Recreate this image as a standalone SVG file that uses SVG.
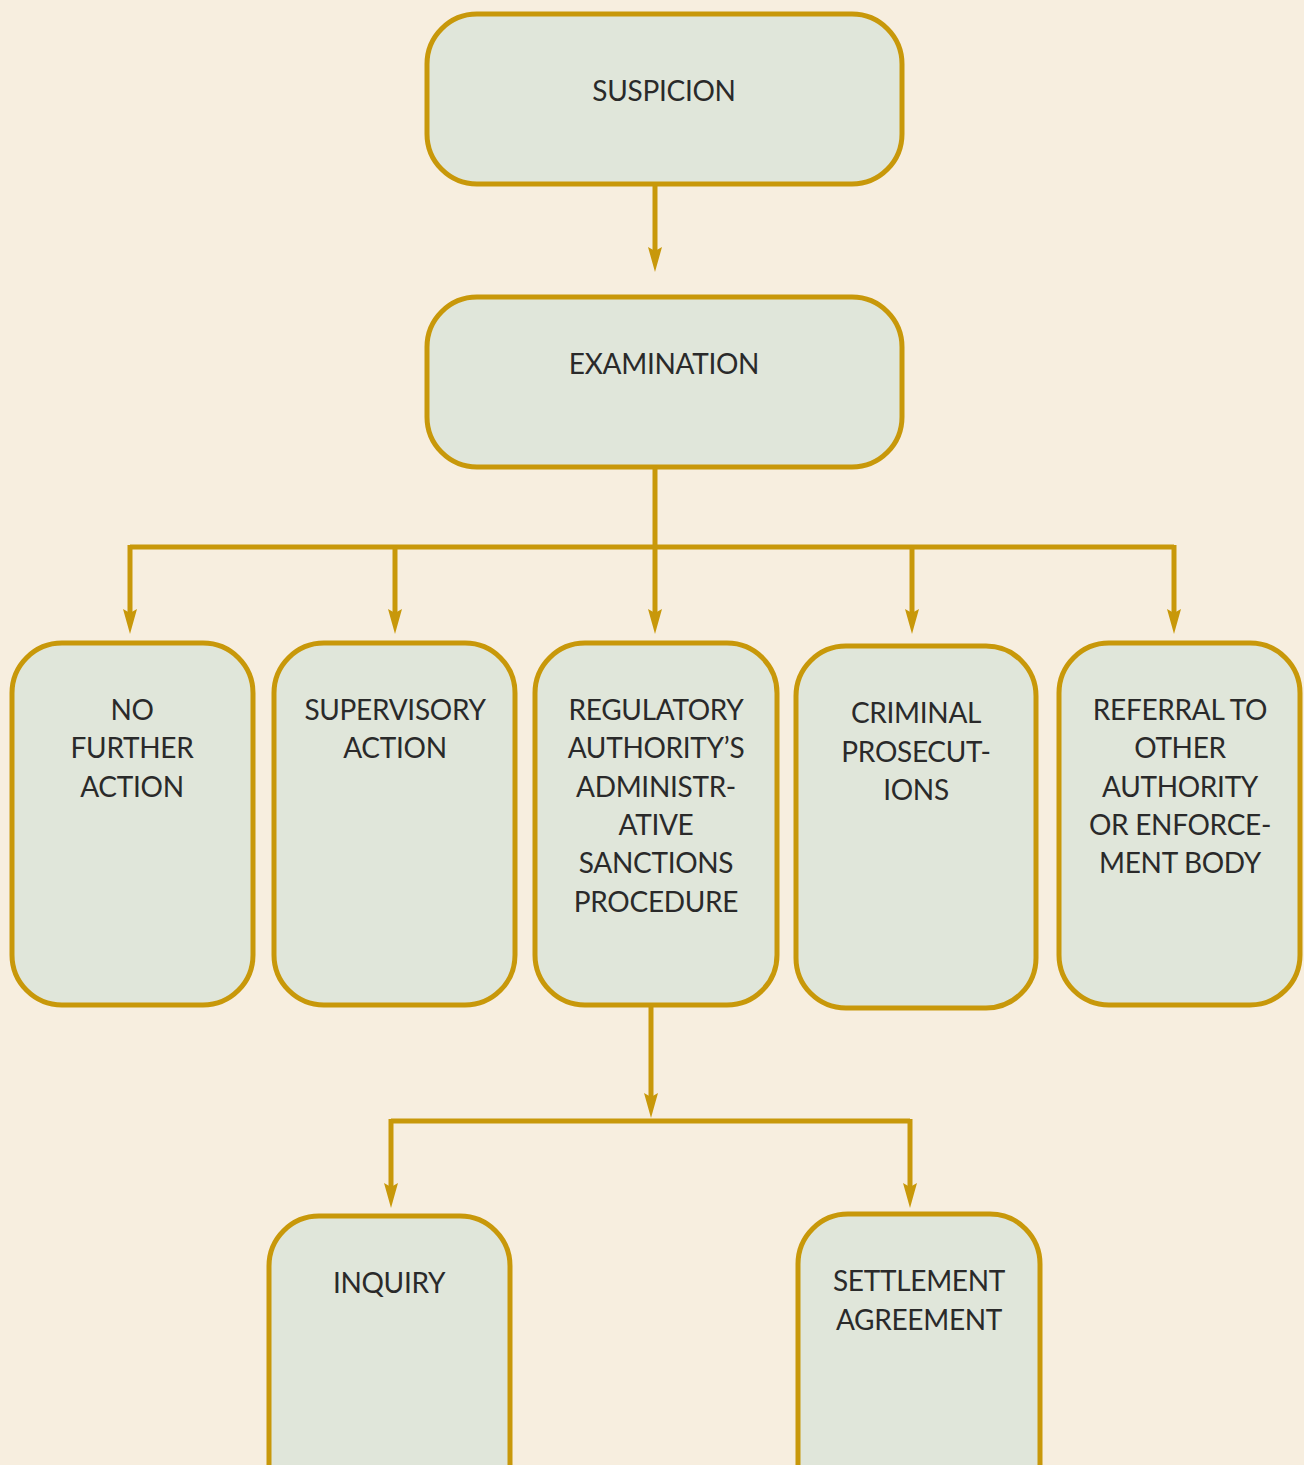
<svg xmlns="http://www.w3.org/2000/svg" width="1304" height="1465" viewBox="0 0 1304 1465">
<style>
.bg{fill:#F7EEDF}
.box{fill:#E0E6DA;stroke:#C8980A;stroke-width:5}
.t{font-family:Lato,"Open Sans","Liberation Sans",sans-serif;font-size:28px;letter-spacing:-0.3px;fill:#2a2a2a;text-anchor:middle}
.c{fill:none;stroke:#C8980A;stroke-width:5}
.a{marker-end:url(#ah)}
</style>
<defs>
<marker id="ah" viewBox="0 0 25 14" refX="13" refY="7" markerWidth="25" markerHeight="14" markerUnits="userSpaceOnUse" orient="auto">
<path d="M0,0 L25,7 L0,14 L4,7 Z" fill="#C8980A"/>
</marker>
</defs>
<rect class="bg" x="0" y="0" width="1304" height="1465"/>
<g id="connectors">
<path class="c a" d="M655,184 V260"/>
<path class="c" d="M655,467 V547"/>
<path class="c" d="M130,547 H1174"/>
<path class="c a" d="M130,545 V622"/>
<path class="c a" d="M395,547 V622"/>
<path class="c a" d="M655,547 V622"/>
<path class="c a" d="M912,547 V622"/>
<path class="c a" d="M1174,545 V622"/>
<path class="c a" d="M651,1005 V1106"/>
<path class="c" d="M391,1121 H910"/>
<path class="c a" d="M391,1119 V1196"/>
<path class="c a" d="M910,1119 V1196"/>
</g>
<g id="suspicion"><rect class="box" x="427" y="14" width="475" height="170" rx="50"/><text class="t" x="664" y="101">SUSPICION</text></g>
<g id="examination"><rect class="box" x="427" y="297" width="475" height="170" rx="50"/><text class="t" x="664" y="374">EXAMINATION</text></g>
<g id="no-further-action"><rect class="box" x="12" y="643" width="241" height="362" rx="50"/><text class="t" x="132" y="720">NO</text><text class="t" x="132" y="758">FURTHER</text><text class="t" x="132" y="797">ACTION</text></g>
<g id="supervisory-action"><rect class="box" x="274" y="643" width="241" height="362" rx="50"/><text class="t" x="395" y="720">SUPERVISORY</text><text class="t" x="395" y="758">ACTION</text></g>
<g id="regulatory"><rect class="box" x="535" y="643" width="242" height="362" rx="50"/><text class="t" x="656" y="720">REGULATORY</text><text class="t" x="656" y="758">AUTHORITY’S</text><text class="t" x="656" y="797">ADMINISTR-</text><text class="t" x="656" y="835">ATIVE</text><text class="t" x="656" y="873">SANCTIONS</text><text class="t" x="656" y="912">PROCEDURE</text></g>
<g id="criminal"><rect class="box" x="796" y="646" width="240" height="362" rx="50"/><text class="t" x="916" y="723">CRIMINAL</text><text class="t" x="916" y="762">PROSECUT-</text><text class="t" x="916" y="800">IONS</text></g>
<g id="referral"><rect class="box" x="1059" y="643" width="241" height="362" rx="50"/><text class="t" x="1180" y="720">REFERRAL TO</text><text class="t" x="1180" y="758">OTHER</text><text class="t" x="1180" y="797">AUTHORITY</text><text class="t" x="1180" y="835">OR ENFORCE-</text><text class="t" x="1180" y="873">MENT BODY</text></g>
<g id="inquiry"><rect class="box" x="269" y="1216" width="241" height="300" rx="50"/><text class="t" x="389" y="1293">INQUIRY</text></g>
<g id="settlement"><rect class="box" x="798" y="1214" width="242" height="300" rx="50"/><text class="t" x="919" y="1291">SETTLEMENT</text><text class="t" x="919" y="1330">AGREEMENT</text></g>
</svg>
